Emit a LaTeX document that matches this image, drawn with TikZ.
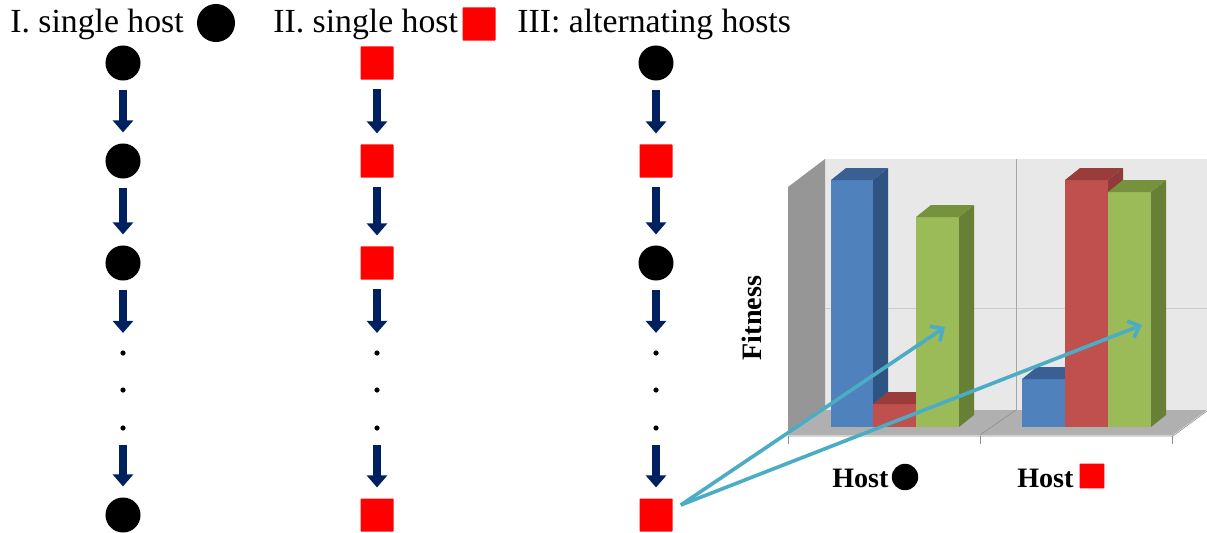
\documentclass[tikz,border=0pt]{standalone}
\usepackage{fontspec}
\setmainfont{Liberation Serif}
\usepackage{xcolor}
\usepackage{tikz}
\usetikzlibrary{positioning,arrows.meta,calc}

\definecolor{navy}{HTML}{002060}
\definecolor{hostred}{HTML}{FF0000}
\definecolor{hintblue}{HTML}{4BACC6}
\definecolor{blueF}{HTML}{4F81BD}
\definecolor{blueS}{HTML}{2F5481}
\definecolor{blueT}{HTML}{3A6093}
\definecolor{redF}{HTML}{C0504D}
\definecolor{redS}{HTML}{8E3B39}
\definecolor{redT}{HTML}{9A3D3A}
\definecolor{greenF}{HTML}{9BBB59}
\definecolor{greenS}{HTML}{687F36}
\definecolor{greenT}{HTML}{76923C}

% one 3D bar: x1, x2, top, front, side, top face
\newcommand{\chartbar}[6]{
    \fill[#5] (#2,427) -- (#2,#3) -- ++(15,-12) -- ++(0,{427-#3}) -- cycle;
    \fill[#4] (#1,#3) rectangle (#2,427);
    \fill[#6] (#1,#3) -- ++(15,-12) -- ++({#2-#1},0) -- (#2,#3) -- cycle;
}

\begin{document}
\begin{tikzpicture}[x=0.025cm, y=-0.025cm,
    title/.style={font=\fontsize{24}{29}\selectfont, inner sep=0pt},
    axislbl/.style={font=\bfseries\fontsize{20}{24}\selectfont, inner sep=0pt},
    hc/.style={circle, fill=black, minimum size=0.875cm, inner sep=0pt},
    hs/.style={rectangle, fill=hostred, minimum size=0.825cm, inner sep=0pt, rounded corners=0.5pt},
    dotnode/.style={circle, fill=black, minimum size=0.13cm, inner sep=0pt},
    flow/.style={-{Triangle[width=0.5cm,length=0.3cm]}, line width=0.18cm, navy,
        shorten <=0.23cm, shorten >=0.27cm},
    hint/.style={-{Straight Barb[width=0.45cm,length=0.24cm]}, line width=0.09cm, hintblue}]
    \useasboundingbox (0,0) rectangle (1207,532);

    % Titles
    \node[title, anchor=base west] (t1) at (10,33) {I. single host};
    \node[hc, minimum size=0.95cm] (t1s) at (216,23) {};
    \node[title, anchor=base west] (t2) at (273,33) {II. single host};
    \node[hs] (t2s) at (479,24) {};
    \node[title, anchor=base west] (t3) at (517,33) {III: alternating hosts};

    % Column I
    \node[hc] (a1) at (123,63) {};
    \node[hc] (a2) at (123,161) {};
    \node[hc] (a3) at (123,263) {};
    \node[dotnode] (a4) at (123,353) {};
    \node[dotnode] (a5) at (123,390) {};
    \node[dotnode] (a6) at (123,428) {};
    \node[hc] (a7) at (123,515) {};
    \draw[flow] (a1.south) -- (a2.north);
    \draw[flow] (a2.south) -- (a3.north);
    \draw[flow, shorten >=0.43cm] (a3.south) -- (a4.north);
    \draw[flow, shorten <=0.36cm] (a6.south) -- (a7.north);

    % Column II
    \node[hs] (b1) at (377,63) {};
    \node[hs] (b2) at (377,161) {};
    \node[hs] (b3) at (377,263) {};
    \node[dotnode] (b4) at (377,353) {};
    \node[dotnode] (b5) at (377,390) {};
    \node[dotnode] (b6) at (377,428) {};
    \node[hs] (b7) at (377,515) {};
    \draw[flow] (b1.south) -- (b2.north);
    \draw[flow] (b2.south) -- (b3.north);
    \draw[flow, shorten >=0.43cm] (b3.south) -- (b4.north);
    \draw[flow, shorten <=0.36cm] (b6.south) -- (b7.north);

    % Column III
    \node[hc] (c1) at (656,63) {};
    \node[hs] (c2) at (656,161) {};
    \node[hc] (c3) at (656,263) {};
    \node[dotnode] (c4) at (656,353) {};
    \node[dotnode] (c5) at (656,390) {};
    \node[dotnode] (c6) at (656,428) {};
    \node[hs] (c7) at (656,515) {};
    \draw[flow] (c1.south) -- (c2.north);
    \draw[flow] (c2.south) -- (c3.north);
    \draw[flow, shorten >=0.43cm] (c3.south) -- (c4.north);
    \draw[flow, shorten <=0.36cm] (c6.south) -- (c7.north);

    % Chart walls and floor
    \fill[black!9] (825,159) rectangle (1207,410);
    \fill[black!41] (788,187) -- (825,159) -- (825,410) -- (788,435) -- cycle;
    \draw[black!20, thin] (825,308) -- (1207,308);
    \draw[black!35, thin] (1016,159) -- (1016,410);
    \fill[black!31] (788,435) -- (825,410) -- (1207,410) -- (1173,435) -- cycle;
    \draw[black!45, thin] (1016,410) -- (980,435);

    % Bars
    \chartbar{831}{873}{180}{blueF}{blueS}{blueT}
    \chartbar{873}{916}{404}{redF}{redS}{redT}
    \chartbar{916}{959}{217}{greenF}{greenS}{greenT}
    \chartbar{1022}{1065}{379}{blueF}{blueS}{blueT}
    \chartbar{1065}{1108}{180}{redF}{redS}{redT}
    \chartbar{1108}{1151}{192}{greenF}{greenS}{greenT}

    % Axis
    \draw[black!45] (788,436) -- (1173,436) -- (1207,411);
    \draw[black!45] (788,436) -- (788,444);
    \draw[black!45] (980,436) -- (980,444);
    \draw[black!45] (1172,436) -- (1172,444);

    % Labels
    \node[axislbl, rotate=90] (fit) at (752,318) {Fitness};
    \node[axislbl, anchor=base west] (h1) at (832,487) {Host};
    \node[hc, minimum size=0.66cm] (h1s) at (905,477) {};
    \node[axislbl, anchor=base west] (h2) at (1017,487) {Host};
    \node[hs, minimum size=0.62cm] (h2s) at (1092,476) {};

    % Hints into the chart
    \coordinate (tipA) at (945,327);
    \coordinate (tipB) at (1142,325);
    \draw[hint] ([shift={(8,-10)}]c7.east) -- (tipA);
    \draw[hint] ([shift={(8,-10)}]c7.east) -- (tipB);
\end{tikzpicture}
\end{document}
